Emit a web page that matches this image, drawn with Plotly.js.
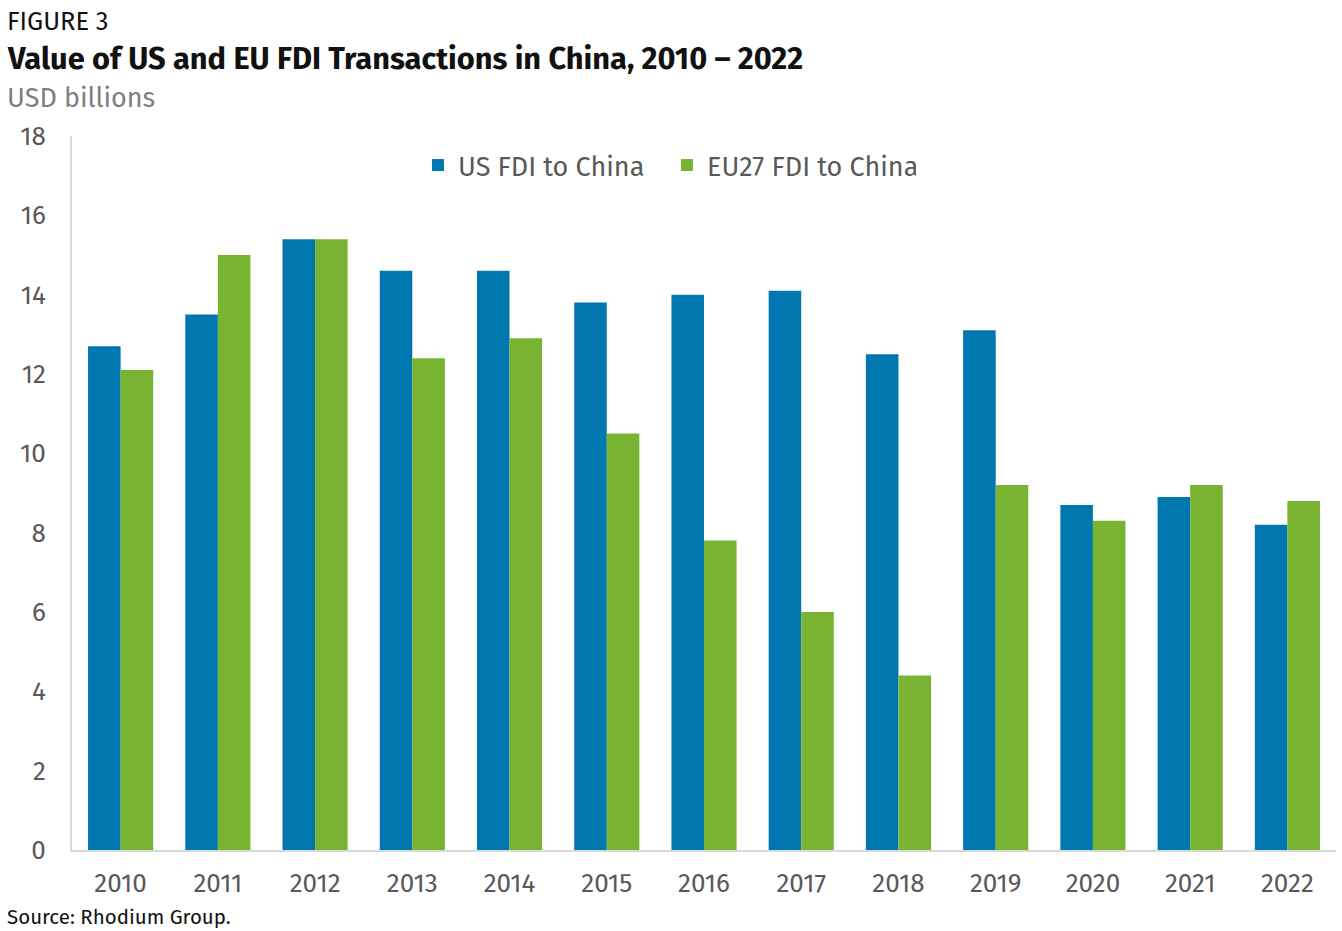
<!DOCTYPE html>
<html>
<head>
<meta charset="utf-8">
<script src="https://cdn.plot.ly/plotly-3.0.1.min.js"></script>
<style>html,body{margin:0;padding:0;background:#fff;}#chart{width:1342px;height:931px;}</style>
</head>
<body>
<div id="chart"></div>
<script>
const years = ["2010","2011","2012","2013","2014","2015","2016","2017","2018","2019","2020","2021","2022"];
const usFDI = [12.7, 13.5, 15.4, 14.6, 14.6, 13.8, 14.0, 14.1, 12.5, 13.1, 8.7, 8.9, 8.2];
const euFDI = [12.1, 15.0, 15.4, 12.4, 12.9, 10.5, 7.8, 6.0, 4.4, 9.2, 8.3, 9.2, 8.8];
const yTicks = [0, 2, 4, 6, 8, 10, 12, 14, 16, 18];

const FONT = "'Fira Sans', 'Noto Sans', 'Open Sans', sans-serif";

const traces = [
  {type: "bar", name: "US FDI to China", x: years, y: usFDI, marker: {color: "#0077AE"}, hoverinfo: "x+y+name"},
  {type: "bar", name: "EU27 FDI to China", x: years, y: euFDI, marker: {color: "#78B432"}, hoverinfo: "x+y+name"}
];

const layout = {
  width: 1342, height: 931,
  margin: {l: 72, r: 6, t: 136, b: 81, pad: 0},
  paper_bgcolor: "#ffffff", plot_bgcolor: "#ffffff",
  font: {family: FONT, color: "#595959", size: 22},
  barmode: "group", bargap: 0.33, bargroupgap: 0,
  showlegend: true,
  legend: {orientation: "h", x: 0.2737, xanchor: "left", y: 0.993, yanchor: "top",
           font: {size: 27, color: "#595959", family: FONT}, itemwidth: 30, entrywidth: 204,
           bgcolor: "rgba(0,0,0,0)", traceorder: "normal"},
  xaxis: {type: "category", showgrid: false, zeroline: false, showline: true, linecolor: "#d9d9d9", linewidth: 2,
          ticks: "", tickfont: {size: 26, color: "#595959"}, ticklabelstandoff: 9},
  yaxis: {range: [0, 18], tickvals: yTicks, ticktext: yTicks.map(String), showgrid: false, zeroline: false,
          showline: true, linecolor: "#d9d9d9", linewidth: 2, ticks: "", tickfont: {size: 26, color: "#595959"}, ticklabelstandoff: 19},
  annotations: [
    {text: "FIGURE 3", xref: "paper", yref: "paper", x: -0.053, y: 1.16, xanchor: "left", yanchor: "middle", showarrow: false,
     font: {size: 25.5, color: "#111111", family: FONT}},
    {text: "<b>Value of US and EU FDI Transactions in China, 2010 – 2022</b>", xref: "paper", yref: "paper", x: -0.053, y: 1.109, xanchor: "left", yanchor: "middle", showarrow: false,
     font: {size: 30.8, color: "#111111", family: FONT}},
    {text: "USD billions", xref: "paper", yref: "paper", x: -0.053, y: 1.053, xanchor: "left", yanchor: "middle", showarrow: false,
     font: {size: 27, color: "#7f7f7f", family: FONT}},
    {text: "Source: Rhodium Group.", xref: "paper", yref: "paper", x: -0.053, y: -0.094, xanchor: "left", yanchor: "middle", showarrow: false,
     font: {size: 20.5, color: "#111111", family: FONT}}
  ]
};

Plotly.newPlot("chart", traces, layout, {displayModeBar: false, responsive: false});
</script>
</body>
</html>
